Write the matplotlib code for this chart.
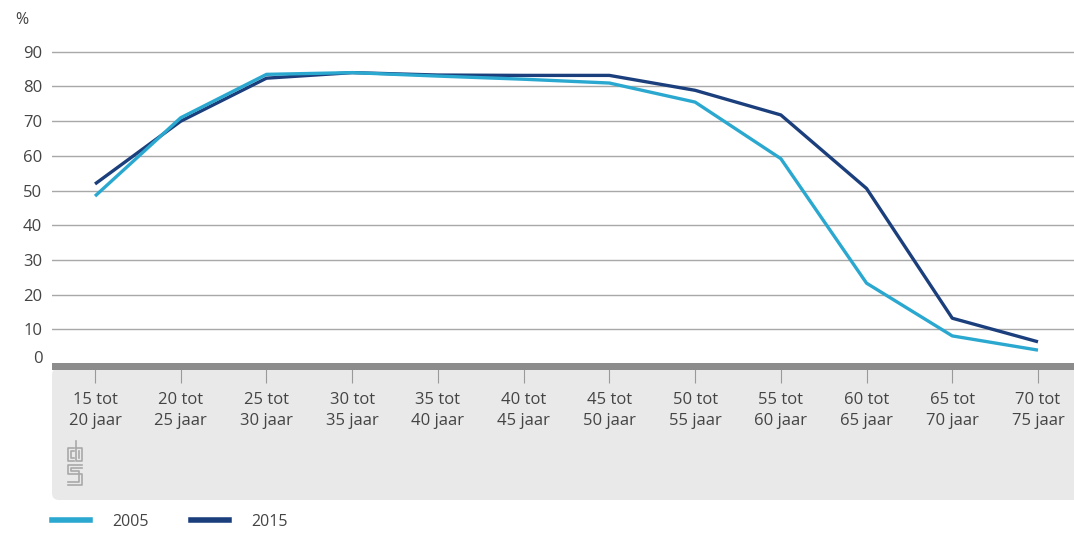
import numpy as np
import matplotlib
matplotlib.use('Agg')
import matplotlib.pyplot as plt
import matplotlib.transforms as mtransforms
from matplotlib.patches import Rectangle, FancyBboxPatch
from matplotlib.lines import Line2D

plt.rcParams['font.family'] = ['Open Sans', 'DejaVu Sans']

# data
categories = ['15 tot\n20 jaar', '20 tot\n25 jaar', '25 tot\n30 jaar', '30 tot\n35 jaar',
              '35 tot\n40 jaar', '40 tot\n45 jaar', '45 tot\n50 jaar', '50 tot\n55 jaar',
              '55 tot\n60 jaar', '60 tot\n65 jaar', '65 tot\n70 jaar', '70 tot\n75 jaar']
v2005 = [48.4, 71.0, 83.5, 84.0, 83.0, 82.1, 81.0, 75.5, 59.2, 23.3, 8.1, 4.0]
v2015 = [51.9, 70.0, 82.4, 84.0, 83.3, 83.2, 83.2, 78.9, 71.8, 50.6, 13.2, 6.4]
yticks = [0, 10, 20, 30, 40, 50, 60, 70, 80, 90]

c2005 = '#2aa8cf'
c2015 = '#1b3f7c'
txt = '#444444'

W, H = 1074, 536
fig = plt.figure(figsize=(W / 100, H / 100), dpi=100)
ax = fig.add_axes([52 / W, (H - 364) / H, 1 - 52 / W, (364 - 31) / H])

x = np.arange(len(categories))
ax.plot(x, v2015, color=c2015, lw=2.4, solid_capstyle='butt', zorder=3)
ax.plot(x, v2005, color=c2005, lw=2.4, solid_capstyle='butt', zorder=4)

ax.set_xlim(-0.502, 11.42)
ax.set_ylim(0, 96)
ax.set_yticks(yticks)
ax.set_yticklabels([str(v) for v in yticks])
ax.yaxis.grid(True, color='#a8a8a8', lw=1)
ax.set_axisbelow(True)
ax.tick_params(axis='y', length=0, pad=7, labelsize=12, labelcolor=txt)
ax.set_xticks(x)
ax.set_xticklabels(categories, linespacing=1.45)
ax.tick_params(axis='x', direction='out', length=14, width=0.8, color='#9a9a9a',
               pad=6, labelsize=12, labelcolor=txt)
for s in ax.spines.values():
    s.set_visible(False)

# the "0" label sits just above the thick baseline
zero_lbl = ax.get_yticklabels()[0]
zero_lbl.set_transform(zero_lbl.get_transform() +
                       mtransforms.ScaledTranslation(0, 7 / 100, fig.dpi_scale_trans))

# grey label band and thick baseline
band = FancyBboxPatch((0.52, 0.36), 10.5, 1.32,
                      boxstyle='round,pad=0.0,rounding_size=0.07',
                      transform=fig.dpi_scale_trans, facecolor='#e9e9e9',
                      edgecolor='none', zorder=-1)
fig.patches.append(band)
bar = Rectangle((52 / W, (H - 370) / H), 1.0, 7 / H, transform=fig.transFigure,
                facecolor='#8c8c8c', edgecolor='none', zorder=2)
fig.patches.append(bar)

fig.text(15 / W, (H - 20) / H, '%', fontsize=11.5, color=txt, va='center', ha='left')


# cbs logo (rough outline drawing in pixel coords, y measured from top)
def logo_line(xs, ys):
    fig.add_artist(Line2D([v / W for v in xs], [(H - v) / H for v in ys],
                          transform=fig.transFigure, color='#a9a9a9', lw=1.2))


logo_line([74, 68, 68, 74], [448, 448, 461, 461])          # c
logo_line([74, 71, 71, 74], [451, 451, 458, 458])
logo_line([76, 76, 82, 82, 76], [441, 461, 461, 448, 448])  # b
logo_line([79, 79], [451, 458])
logo_line([82, 68, 68, 82, 82, 68], [465, 465, 474, 474, 485, 485])  # S
logo_line([82, 71, 71, 79, 79, 68], [468, 468, 471, 471, 482, 482])

handles = [Line2D([], [], color=c2005, lw=4), Line2D([], [], color=c2015, lw=4)]
fig.legend(handles, ['2005', '2015'], loc='center left', ncol=2,
           bbox_to_anchor=(52 / W, (H - 522) / H), frameon=False, fontsize=11.5,
           handlelength=2.4, handletextpad=1.4, columnspacing=2.6,
           labelcolor=txt, borderaxespad=0, borderpad=0)

fig.savefig('out.png', dpi=100)
